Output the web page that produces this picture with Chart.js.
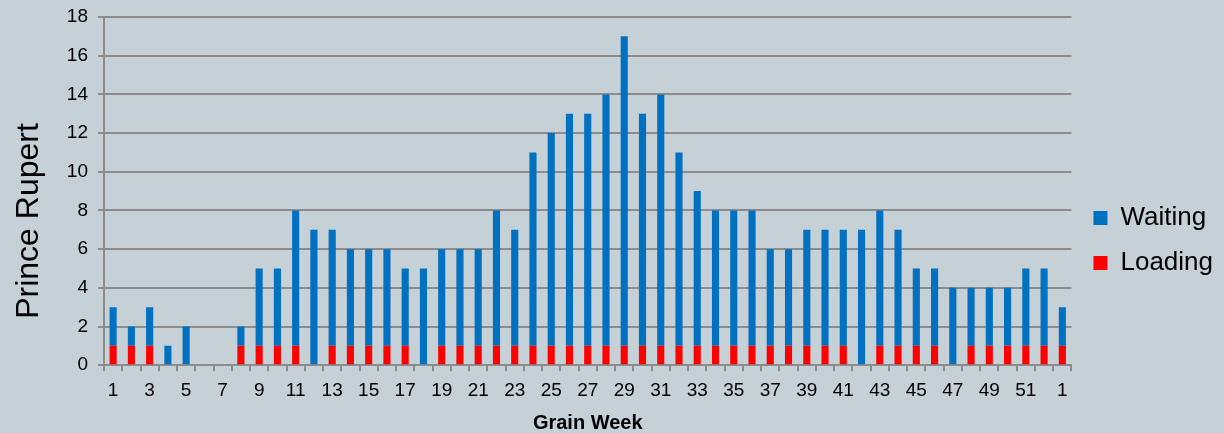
<!DOCTYPE html>
<html>
<head>
<meta charset="utf-8">
<script src="https://cdn.jsdelivr.net/npm/chart.js@4"></script>
<style>
  html, body { margin: 0; padding: 0; background: #c5d0d7; }
  #wrap { width: 1224px; height: 433px; }
</style>
</head>
<body>
<div id="wrap"><canvas id="myChart" width="1224" height="433"></canvas></div>
<script>
// grain weeks (year wraps to week 1 at the end)
const weeks = ["1","2","3","4","5","6","7","8","9","10","11","12","13","14","15","16","17","18","19","20",
  "21","22","23","24","25","26","27","28","29","30","31","32","33","34","35","36","37","38","39","40",
  "41","42","43","44","45","46","47","48","49","50","51","52","1"];

const loading = [1,1,1,0,0,0,0,1,1,1,1,0,1,1,1,1,1,0,1,1,
  1,1,1,1,1,1,1,1,1,1,1,1,1,1,1,1,1,1,1,1,
  1,0,1,1,1,1,0,1,1,1,1,1,1];

const waiting = [2,1,2,1,2,0,0,1,4,4,7,7,6,5,5,5,4,5,5,5,
  5,7,6,10,11,12,12,13,16,12,13,10,8,7,7,7,5,5,6,6,
  6,7,7,6,4,4,4,3,3,3,4,4,2];

const yTicks = [0,2,4,6,8,10,12,14,16,18];

const gridColor = '#8c8c8c';
const font = 'Liberation Sans, Arial, sans-serif';

// y title is drawn by hand so it sits a bit lower than the plot centre, like the original
const yTitlePlugin = {
  id: 'yTitle',
  afterLayout(chart) {
    // nudge legend a little to the right
    chart.legend.left += 3;
    chart.legend.right += 3;
  },
  afterDraw(chart) {
    const ctx = chart.ctx;
    ctx.save();
    ctx.translate(29, 221);
    ctx.rotate(-Math.PI / 2);
    ctx.font = '32px ' + font;
    ctx.fillStyle = '#000';
    ctx.textAlign = 'center';
    ctx.textBaseline = 'middle';
    ctx.fillText('Prince Rupert', 0, 0);
    ctx.restore();
  }
};

const data = {
  labels: weeks,
  datasets: [
    {
      label: 'Loading',
      data: loading,
      backgroundColor: '#ff0000',
      categoryPercentage: 1,
      barPercentage: 0.39
    },
    {
      label: 'Waiting',
      data: waiting,
      backgroundColor: '#0070c0',
      categoryPercentage: 1,
      barPercentage: 0.39
    }
  ]
};

const config = {
  type: 'bar',
  data: data,
  plugins: [yTitlePlugin],
  options: {
    responsive: false,
    animation: false,
    layout: { padding: { top: 0, right: 4, left: 0, bottom: 0 } },
    plugins: {
      legend: {
        position: 'right',
        reverse: true,
        title: { display: true, text: ' ', font: { size: 10 }, padding: { top: 18, bottom: 18 } },
        labels: {
          boxWidth: 14,
          boxHeight: 14,
          padding: 19,
          color: '#000',
          font: { family: font, size: 26 }
        }
      },
      tooltip: { enabled: false }
    },
    scales: {
      x: {
        stacked: true,
        grid: {
          offset: true,
          drawOnChartArea: false,
          drawTicks: true,
          tickLength: 6,
          color: gridColor,
          lineWidth: 2
        },
        border: { color: gridColor, width: 2 },
        ticks: {
          autoSkip: false,
          maxRotation: 0,
          color: '#000',
          padding: 8,
          font: { family: font, size: 19 },
          callback: function (val, index) {
            return index % 2 === 0 ? this.getLabelForValue(val) : '';
          }
        },
        title: {
          display: true,
          text: 'Grain Week',
          color: '#000',
          padding: { top: 3, bottom: 0 },
          font: { family: font, size: 20, weight: 'bold', lineHeight: 1 }
        }
      },
      y: {
        stacked: true,
        min: 0,
        max: 18,
        afterBuildTicks: function (scale) {
          scale.ticks = yTicks.map(v => ({ value: v }));
        },
        afterFit: function (scale) {
          scale.width = 104;
          scale.paddingTop = 17;
        },
        grid: {
          color: gridColor,
          lineWidth: 2,
          tickLength: 6
        },
        border: { color: gridColor, width: 2 },
        ticks: {
          color: '#000',
          padding: 10,
          font: { family: font, size: 19 }
        }
      }
    }
  }
};

const myChart = new Chart(document.getElementById('myChart'), config);
</script>
</body>
</html>
